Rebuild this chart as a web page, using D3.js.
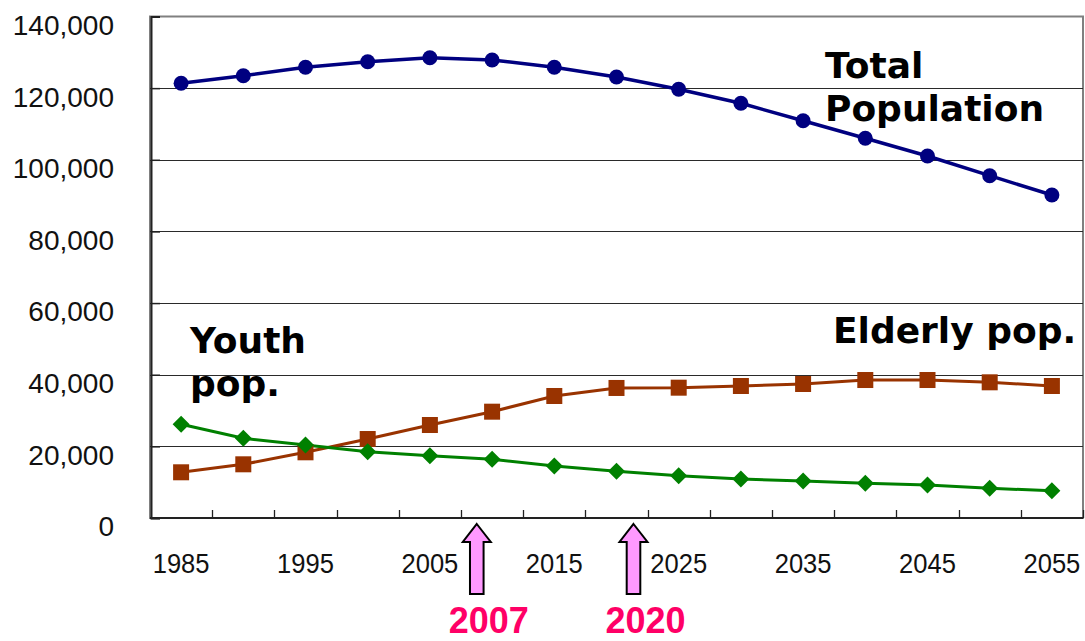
<!DOCTYPE html>
<html>
<head>
<meta charset="utf-8">
<script src="https://cdn.jsdelivr.net/npm/d3@7"></script>
<style>
  html, body { margin: 0; padding: 0; background: #fff; }
  svg { display: block; }
</style>
</head>
<body>
<svg id="chart" width="1085" height="641"></svg>
<script>
// Population projection (thousands), every 5 years
const years = ["1985","1990","1995","2000","2005","2010","2015","2020","2025","2030","2035","2040","2045","2050","2055"];
const totalPop   = [121350,123470,125820,127380,128500,127860,125820,123110,119680,115770,110910,106000,101060,95560,90170];
const elderlyPop = [12760,14990,18340,22050,25960,29680,34060,36300,36380,36850,37410,38520,38520,37880,36850];
const youthPop   = [26160,22250,20380,18510,17390,16390,14520,13020,11810,10890,10330,9690,9210,8290,7620];

const xTickLabels = ["1985","1995","2005","2015","2025","2035","2045","2055"];
const yTicks = [0,20000,40000,60000,80000,100000,120000,140000];

// Milestone markers below the axis
const milestones = [
  { label: "2007", year: 2007, nudge: 22 },
  { label: "2020", year: 2020, nudge: 17 }
];

const svg = d3.select("#chart");
const plotLeft = 150, plotRight = 1083, plotTop = 16.5, plotBottom = 518;

const x = d3.scaleBand().domain(years).range([plotLeft, plotRight]).padding(0);
const cx = d => x(d) + x.bandwidth() / 2;
const y = d3.scaleLinear().domain([0, 140000]).range([plotBottom, plotTop]);
const yearLinear = d3.scaleLinear()
  .domain([+years[0], +years[years.length - 1]])
  .range([cx(years[0]), cx(years[years.length - 1])]);

// Plot frame
svg.append("rect")
  .attr("x", plotLeft).attr("y", plotTop)
  .attr("width", plotRight - plotLeft).attr("height", plotBottom - plotTop)
  .attr("fill", "#fff").attr("stroke", "#808080").attr("stroke-width", 2);

// Horizontal gridlines
svg.append("g").selectAll("line")
  .data(yTicks.filter(v => v > 0 && v < 140000))
  .join("line")
  .attr("x1", plotLeft).attr("x2", plotRight)
  .attr("y1", d => Math.round(y(d)) + 0.5).attr("y2", d => Math.round(y(d)) + 0.5)
  .attr("stroke", "#2a2a2a").attr("stroke-width", 1);

// Y axis
const yAxis = svg.append("g")
  .attr("transform", `translate(${plotLeft + 1},0)`)
  .call(d3.axisLeft(y).tickValues(yTicks).tickSize(-9).tickPadding(37)
        .tickFormat(d3.format(",")));
yAxis.select(".domain").attr("stroke", "#222").attr("stroke-width", 2);
yAxis.selectAll(".tick line").attr("stroke", "#222").attr("stroke-width", 1.5);
yAxis.selectAll(".tick text")
  .attr("dy", "0.64em")
  .attr("fill", "#111")
  .style("font-family", "'Liberation Sans', Arial, sans-serif")
  .style("font-size", "28px");

// X axis: boundary ticks between categories
const boundaries = years.map(d => x(d)).concat([plotRight]);
const xAxis = svg.append("g");
xAxis.append("line")
  .attr("x1", plotLeft).attr("x2", plotRight)
  .attr("y1", plotBottom).attr("y2", plotBottom)
  .attr("stroke", "#222").attr("stroke-width", 2);
xAxis.selectAll("line.tick")
  .data(boundaries.slice(1))
  .join("line").attr("class", "tick")
  .attr("x1", d => Math.round(d) + 0.5).attr("x2", d => Math.round(d) + 0.5)
  .attr("y1", plotBottom).attr("y2", plotBottom - 8)
  .attr("stroke", "#222").attr("stroke-width", 1.3);
xAxis.selectAll("text")
  .data(xTickLabels)
  .join("text")
  .attr("transform", d => `translate(${cx(d)},${plotBottom + 55}) scale(0.93,1)`)
  .attr("text-anchor", "middle")
  .attr("fill", "#111")
  .style("font-family", "'Liberation Sans', Arial, sans-serif")
  .style("font-size", "27.5px")
  .text(d => d);

// Series
const line = d3.line().x((d, i) => cx(years[i])).y(d => y(d));

svg.append("path").datum(totalPop)
  .attr("d", line).attr("fill", "none")
  .attr("stroke", "#000080").attr("stroke-width", 3.5);
svg.append("path").datum(elderlyPop)
  .attr("d", line).attr("fill", "none")
  .attr("stroke", "#993300").attr("stroke-width", 3);
svg.append("path").datum(youthPop)
  .attr("d", line).attr("fill", "none")
  .attr("stroke", "#008000").attr("stroke-width", 3);

// Markers
svg.append("g").selectAll("circle")
  .data(totalPop).join("circle")
  .attr("cx", (d, i) => cx(years[i])).attr("cy", d => y(d))
  .attr("r", 7.5).attr("fill", "#000080");

svg.append("g").selectAll("rect")
  .data(elderlyPop).join("rect")
  .attr("x", (d, i) => cx(years[i]) - 8).attr("y", d => y(d) - 8)
  .attr("width", 16).attr("height", 16).attr("fill", "#993300");

svg.append("g").selectAll("path")
  .data(youthPop).join("path")
  .attr("transform", (d, i) => `translate(${cx(years[i])},${y(d)})`)
  .attr("d", "M0,-8.5L8.5,0L0,8.5L-8.5,0Z")
  .attr("fill", "#008000");

// Series labels
const labelFont = "'DejaVu Sans', Verdana, sans-serif";
const seriesLabels = [
  { lines: ["Total", "Population"], x: 825, y: 78 },
  { lines: ["Elderly pop."], x: 833, y: 343 },
  { lines: ["Youth", "pop."], x: 190, y: 353 }
];
seriesLabels.forEach(l => {
  const t = svg.append("text")
    .attr("x", l.x).attr("y", l.y)
    .attr("fill", "#000")
    .style("font-family", labelFont)
    .style("font-weight", "bold")
    .style("font-size", "36px");
  l.lines.forEach((s, i) => {
    t.append("tspan").attr("x", l.x).attr("dy", i === 0 ? 0 : 43).text(s);
  });
});

// Milestone arrows and years
const arrowTip = plotBottom + 6, headBase = plotBottom + 24, shaftEnd = plotBottom + 76;
const headHalf = 14, shaftHalf = 6.8;
const mg = svg.append("g").selectAll("g")
  .data(milestones).join("g")
  .attr("transform", d => `translate(${yearLinear(d.year) + d.nudge},0)`);
mg.append("path")
  .attr("d", `M0,${arrowTip}L${headHalf},${headBase}L${shaftHalf},${headBase}L${shaftHalf},${shaftEnd}` +
             `L${-shaftHalf},${shaftEnd}L${-shaftHalf},${headBase}L${-headHalf},${headBase}Z`)
  .attr("fill", "#ff99ff").attr("stroke", "#000").attr("stroke-width", 2)
  .attr("stroke-linejoin", "miter");
mg.append("text")
  .attr("x", 12).attr("y", 633)
  .attr("text-anchor", "middle")
  .attr("fill", "#ff0066")
  .style("font-family", "'Liberation Sans', Arial, sans-serif")
  .style("font-weight", "bold")
  .style("font-size", "36px")
  .text(d => d.label);
</script>
</body>
</html>
